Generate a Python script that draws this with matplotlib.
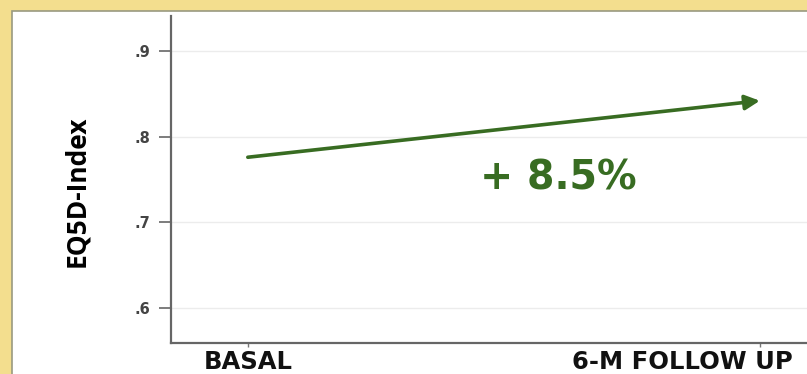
import matplotlib.pyplot as plt
import matplotlib.transforms as mtransforms
from matplotlib.patches import Rectangle
from matplotlib.ticker import FuncFormatter

# data
timepoints = ["BASAL", "6-M FOLLOW UP"]
eq5d_index = [0.776, 0.842]
change_label = "+ 8.5%"
y_ticks = [0.6, 0.7, 0.8, 0.9]

green = "#386c22"

fig = plt.figure(figsize=(8.07, 3.74), dpi=100)
fig.patch.set_facecolor("#f3de8e")

# white panel inside the yellow frame
panel = Rectangle((12 / 807, -0.01), 1, 1.01 - 11 / 374, transform=fig.transFigure,
                  facecolor="white", edgecolor="#9a9a80", linewidth=1.2, zorder=-10)
fig.patches.append(panel)

ax = fig.add_axes([171 / 807, 31 / 374, 636 / 807, 327 / 374])
ax.patch.set_alpha(0)
ax.set_xlim(-0.15, 1.092)
ax.set_ylim(0.559, 0.941)

ax.set_yticks(y_ticks)
ax.yaxis.set_major_formatter(FuncFormatter(lambda v, p: f"{v:.1f}".lstrip("0")))
for t in ax.get_yticklabels():
    t.set_fontweight("bold")
ax.set_xticks([0, 1])
ax.set_xticklabels(timepoints, fontsize=17.5, fontweight="bold", family="DejaVu Sans")
ax.tick_params(axis="y", labelsize=10.5, colors="#666666", labelcolor="#444444",
               length=9, width=1.2, pad=6)
ax.tick_params(axis="x", length=3, width=1, colors="#777777", labelcolor="#111111", pad=2)

# the follow-up label sits left of its tick, against the right edge
lbl = ax.get_xticklabels()[1]
lbl.set_ha("right")
lbl.set_transform(lbl.get_transform() + mtransforms.ScaledTranslation(0.33, 0, fig.dpi_scale_trans))

for s in ["top", "right"]:
    ax.spines[s].set_visible(False)
ax.spines["left"].set_color("#666666")
ax.spines["left"].set_linewidth(1.6)
ax.spines["bottom"].set_color("#666666")
ax.spines["bottom"].set_linewidth(1.6)

ax.grid(axis="y", color="#ececec", linewidth=1)
ax.set_axisbelow(True)

ax.set_ylabel("EQ5D-Index", fontsize=19, fontweight="bold", family="Open Sans")
ax.yaxis.set_label_coords(-0.127, 0.465)

ax.annotate("", xy=(1, eq5d_index[1]), xytext=(0, eq5d_index[0]),
            arrowprops=dict(arrowstyle="-|>", color=green, lw=2.6,
                            mutation_scale=22, shrinkA=0, shrinkB=0))

ax.text(0.607, 0.751, change_label, color=green, fontsize=28.5, fontweight="bold",
        family="DejaVu Sans", ha="center", va="center")

fig.savefig("out.png", dpi=100, facecolor=fig.get_facecolor())
